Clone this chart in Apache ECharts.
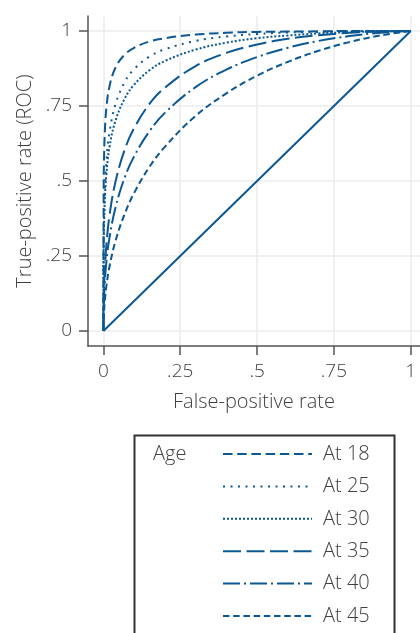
<!DOCTYPE html>
<html>
<head>
<meta charset="utf-8">
<script src="https://cdn.jsdelivr.net/npm/echarts@6/dist/echarts.min.js"></script>
<style>
html,body{margin:0;padding:0;background:#fff;}
#chart{width:420px;height:633px;}
</style>
</head>
<body>
<div id="chart"></div>
<script>
// ---- data (false-positive rate, true-positive rate) ----
var fpr = [0, 0.001, 0.002, 0.005, 0.01, 0.02, 0.04, 0.07, 0.1, 0.15, 0.2, 0.3, 0.4, 0.5, 0.6, 0.7, 0.8, 0.9, 1];
var tprAt18 = [0, 0.49, 0.567, 0.67, 0.745, 0.816, 0.879, 0.922, 0.944, 0.965, 0.976, 0.988, 0.994, 0.997, 0.998, 0.999, 1, 1, 1];
var tprAt25 = [0, 0.295, 0.363, 0.47, 0.567, 0.663, 0.758, 0.831, 0.873, 0.915, 0.939, 0.967, 0.982, 0.99, 0.995, 0.997, 0.999, 1, 1];
var tprAt30 = [0, 0.288, 0.348, 0.444, 0.524, 0.614, 0.703, 0.776, 0.821, 0.869, 0.9, 0.938, 0.961, 0.976, 0.985, 0.992, 0.996, 0.999, 1];
var tprAt35 = [0, 0.097, 0.138, 0.212, 0.289, 0.386, 0.5, 0.606, 0.676, 0.757, 0.811, 0.883, 0.927, 0.955, 0.974, 0.986, 0.994, 0.998, 1];
var tprAt40 = [0, 0.078, 0.109, 0.169, 0.233, 0.312, 0.414, 0.513, 0.582, 0.666, 0.727, 0.813, 0.871, 0.913, 0.944, 0.967, 0.983, 0.994, 1];
var tprAt45 = [0, 0.044, 0.064, 0.106, 0.151, 0.215, 0.302, 0.392, 0.46, 0.547, 0.614, 0.717, 0.792, 0.851, 0.897, 0.934, 0.963, 0.985, 1];
var refX = [0, 1];
var refY = [0, 1];

var seriesNames = ['At 18', 'At 25', 'At 30', 'At 35', 'At 40', 'At 45'];
var seriesTpr = [tprAt18, tprAt25, tprAt30, tprAt35, tprAt40, tprAt45];
var dashes = [[9.5, 4.7], [2, 5.5], [2, 2], [18, 5.5], [17, 4, 2, 4], [6.5, 3.7]];

var tickValues = [0, 0.25, 0.5, 0.75, 1];
var tickLabels = ['0', '.25', '.5', '.75', '1'];

var xTitle = 'False-positive rate';
var yTitle = 'True-positive rate (ROC)';
var legendTitle = 'Age';

// ---- build ----
var COLOR = '#0b5894';
var FONT = 'Open Sans';
var TXT = '#404040';

function pairs(xs, ys) {
  return xs.map(function (x, i) { return [x, ys[i]]; });
}
function fmt(v) {
  var i = tickValues.indexOf(Math.round(v * 100) / 100);
  return i >= 0 ? tickLabels[i] : '';
}

var series = seriesNames.map(function (n, i) {
  return {
    name: n, type: 'line', data: pairs(fpr, seriesTpr[i]),
    symbol: 'none', smooth: 0.4,
    lineStyle: { color: COLOR, width: 2, type: dashes[i], cap: 'butt' },
    itemStyle: { color: COLOR },
    z: 3
  };
});
series.push({
  name: 'ref', type: 'line', data: pairs(refX, refY), symbol: 'none',
  lineStyle: { color: COLOR, width: 2, type: 'solid' }, itemStyle: { color: COLOR }, z: 3
});

function axis(isX) {
  return {
    type: 'value',
    min: -0.05, max: isX ? 1.03 : 1.05,
    name: isX ? xTitle : yTitle,
    nameLocation: 'middle',
    nameGap: isX ? 46 : 53,
    nameTextStyle: { fontFamily: FONT, fontSize: 20, fontWeight: 300, color: TXT },
    axisLine: { show: true, onZero: false, lineStyle: { color: '#555', width: 1.5 } },
    axisTick: { show: true, length: 9, customValues: tickValues, lineStyle: { color: '#555', width: 1.5 } },
    axisLabel: { customValues: tickValues, formatter: fmt, margin: 16, fontFamily: FONT, fontSize: 19, fontWeight: 300, color: TXT },
    splitLine: { show: true, lineStyle: { color: '#ededed', width: 1.6 } }
  };
}

var chart = echarts.init(document.getElementById('chart'), null, { renderer: 'canvas' });
chart.setOption({
  animation: false,
  backgroundColor: '#fff',
  grid: { left: 88, right: 0, top: 16, bottom: 287, containLabel: false },
  xAxis: axis(true),
  yAxis: axis(false),
  title: {
    text: legendTitle, left: 153, top: 443, padding: 0,
    textStyle: { fontFamily: FONT, fontSize: 20, fontWeight: 300, color: TXT, lineHeight: 22 }
  },
  legend: {
    data: seriesNames,
    orient: 'vertical',
    left: 222, top: 444,
    width: 200, height: 260,
    padding: 0,
    itemWidth: 89, itemHeight: 14, itemGap: 12.4,
    itemStyle: { opacity: 0 },
    textStyle: { fontFamily: FONT, fontSize: 20, fontWeight: 300, color: TXT, lineHeight: 20, padding: [0, 0, 0, 6] }
  },
  graphic: [{
    type: 'rect', left: 132, top: 433,
    shape: { width: 260, height: 260 },
    style: { fill: 'none', stroke: '#333', lineWidth: 2 },
    silent: true
  }],
  series: series
});
</script>
</body>
</html>
